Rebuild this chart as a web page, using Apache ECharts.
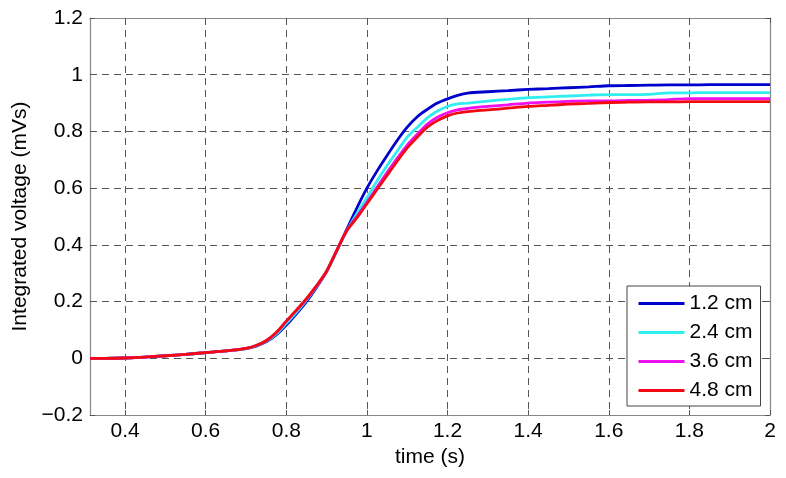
<!DOCTYPE html>
<html>
<head>
<meta charset="utf-8">
<script src="https://cdn.jsdelivr.net/npm/echarts@6/dist/echarts.min.js"></script>
<style>html,body{margin:0;padding:0;background:#fff}#c{width:786px;height:478px}</style>
</head>
<body>
<div id="c"></div>
<script>
var seriesNames = ['1.2 cm', '2.4 cm', '3.6 cm', '4.8 cm'];
var time = [0.313, 0.35, 0.4, 0.45, 0.5, 0.55, 0.6, 0.65, 0.7, 0.725, 0.75, 0.775, 0.8, 0.825, 0.85, 0.875, 0.9, 0.925, 0.95, 0.975, 1.0, 1.025, 1.05, 1.075, 1.1, 1.125, 1.15, 1.175, 1.2, 1.225, 1.25, 1.3, 1.35, 1.4, 1.45, 1.5, 1.55, 1.6, 1.65, 1.7, 1.75, 1.8, 1.85, 1.9, 1.95, 2.0];
var v12 = [0, 0, 0.001, 0.004, 0.009, 0.014, 0.02, 0.026, 0.034, 0.043, 0.058, 0.082, 0.117, 0.157, 0.2, 0.25, 0.306, 0.378, 0.455, 0.53, 0.6, 0.66, 0.715, 0.768, 0.815, 0.852, 0.878, 0.9, 0.915, 0.927, 0.935, 0.94, 0.944, 0.948, 0.951, 0.954, 0.957, 0.961, 0.962, 0.963, 0.964, 0.964, 0.965, 0.965, 0.965, 0.965];
var v24 = [0, 0, 0.001, 0.004, 0.009, 0.014, 0.02, 0.026, 0.034, 0.044, 0.06, 0.086, 0.123, 0.162, 0.205, 0.253, 0.307, 0.378, 0.45, 0.51, 0.566, 0.625, 0.68, 0.73, 0.78, 0.815, 0.848, 0.872, 0.888, 0.897, 0.9, 0.907, 0.913, 0.919, 0.922, 0.925, 0.928, 0.93, 0.93, 0.931, 0.936, 0.936, 0.937, 0.937, 0.937, 0.937];
var v36 = [0, 0, 0.001, 0.004, 0.009, 0.014, 0.02, 0.026, 0.035, 0.045, 0.062, 0.09, 0.13, 0.169, 0.209, 0.255, 0.307, 0.38, 0.45, 0.5, 0.55, 0.603, 0.655, 0.705, 0.752, 0.79, 0.826, 0.85, 0.866, 0.876, 0.881, 0.888, 0.894, 0.9, 0.903, 0.906, 0.908, 0.908, 0.909, 0.91, 0.912, 0.916, 0.916, 0.916, 0.916, 0.916];
var v48 = [0, 0, 0.001, 0.004, 0.009, 0.014, 0.02, 0.026, 0.035, 0.045, 0.062, 0.091, 0.131, 0.17, 0.21, 0.256, 0.307, 0.38, 0.45, 0.495, 0.545, 0.595, 0.645, 0.695, 0.742, 0.78, 0.815, 0.838, 0.855, 0.865, 0.87, 0.876, 0.882, 0.888, 0.892, 0.896, 0.899, 0.902, 0.903, 0.904, 0.904, 0.905, 0.905, 0.905, 0.905, 0.905];
var xTicks = [0.4, 0.6, 0.8, 1.0, 1.2, 1.4, 1.6, 1.8, 2.0];
var yTicks = [-0.2, 0, 0.2, 0.4, 0.6, 0.8, 1.0, 1.2];
var colors = ['#0000cd', '#30eeee', '#ee10ee', '#f20a12'];

var allValues = [v12, v24, v36, v48];
var FONT = 'Liberation Sans, Arial, sans-serif';
var FS = 21;
function fmt(v) { return String(Math.round(v * 10) / 10).replace('-', '\u2212'); }

var gridLine = { show: true, lineStyle: { color: '#555', type: [7, 5], width: 1 } };
var axLine = { show: true, onZero: false, lineStyle: { color: '#888', width: 1.2 } };

var chart = echarts.init(document.getElementById('c'), null, { renderer: 'canvas' });
chart.setOption({
  animation: false,
  backgroundColor: '#fff',
  grid: { left: 90, right: 16, top: 18, bottom: 63, containLabel: false },
  xAxis: [{
    type: 'value', min: 0.313, max: 2.0, position: 'bottom',
    name: 'time (s)', nameLocation: 'middle', nameGap: 31,
    nameTextStyle: { color: '#000', fontSize: FS, fontFamily: FONT },
    axisLine: axLine,
    axisTick: { show: true, inside: true, length: 5, customValues: xTicks, lineStyle: { color: '#555' } },
    axisLabel: { customValues: xTicks, color: '#000', fontSize: FS, fontFamily: FONT, margin: 6, formatter: fmt },
    splitLine: gridLine
  }, {
    type: 'value', min: 0.313, max: 2.0, position: 'top',
    axisLine: axLine,
    axisTick: { show: true, inside: true, length: 5, customValues: xTicks, lineStyle: { color: '#555' } },
    axisLabel: { show: false },
    splitLine: { show: false }
  }],
  yAxis: [{
    type: 'value', min: -0.2, max: 1.2, interval: 0.2, position: 'left',
    name: 'Integrated voltage (mVs)', nameLocation: 'middle', nameGap: 58,
    nameTextStyle: { color: '#000', fontSize: FS, fontFamily: FONT },
    axisLine: axLine,
    axisTick: { show: true, inside: true, length: 5, lineStyle: { color: '#555' } },
    axisLabel: { color: '#000', fontSize: FS, fontFamily: FONT, margin: 7, formatter: fmt },
    splitLine: gridLine
  }, {
    type: 'value', min: -0.2, max: 1.2, interval: 0.2, position: 'right',
    axisLine: axLine,
    axisTick: { show: true, inside: true, length: 5, lineStyle: { color: '#555' } },
    axisLabel: { show: false },
    splitLine: { show: false }
  }],
  legend: {
    orient: 'vertical', left: 627, top: 286,
    padding: [7, 8, 5, 10], itemGap: 8,
    itemWidth: 46, itemHeight: 18, itemTextGap: 6,
    backgroundColor: '#fff', borderColor: '#444', borderWidth: 1,
    itemStyle: { opacity: 0 },
    lineStyle: { width: 3 },
    textStyle: { color: '#000', fontSize: FS, fontFamily: FONT, lineHeight: 20 },
    data: seriesNames
  },
  series: seriesNames.map(function (n, i) {
    return {
      name: n, type: 'line', xAxisIndex: 0, yAxisIndex: 0,
      symbol: 'none', showSymbol: false, smooth: 0.3,
      color: colors[i],
      lineStyle: { color: colors[i], width: 2.8 },
      data: time.map(function (t, k) { return [t, allValues[i][k]]; }),
      z: 2 + i
    };
  })
});
</script>
</body>
</html>
